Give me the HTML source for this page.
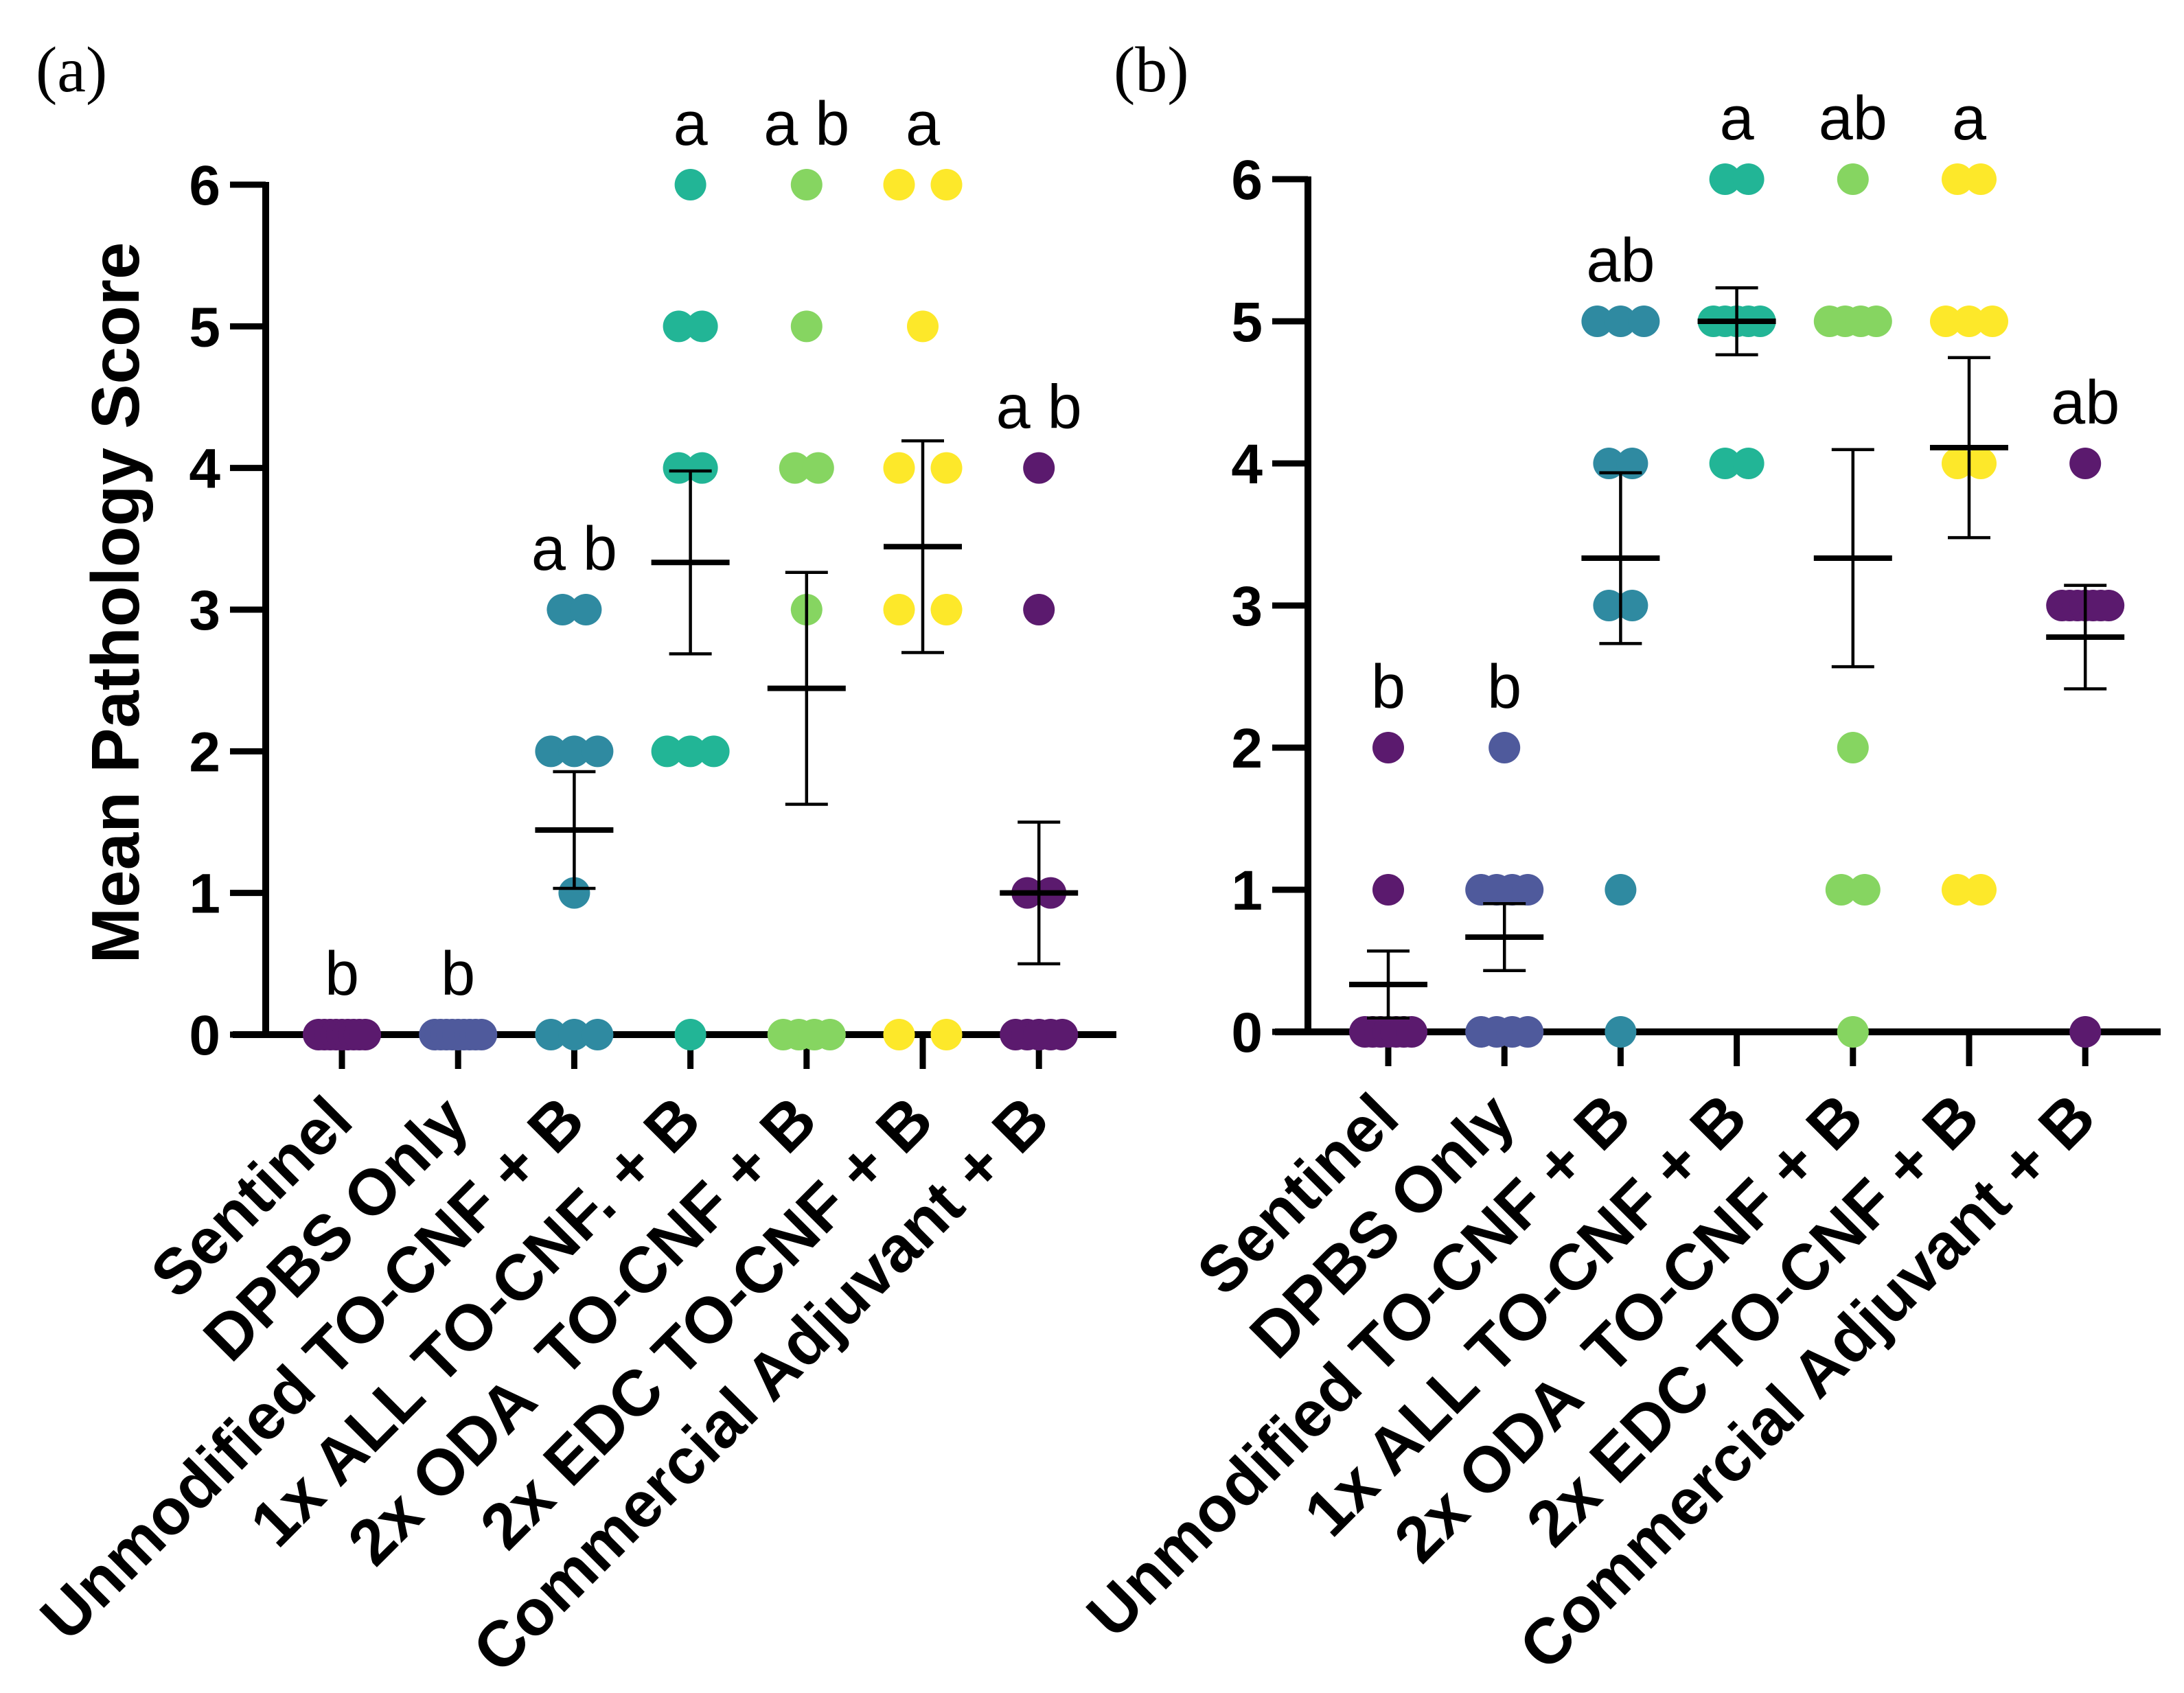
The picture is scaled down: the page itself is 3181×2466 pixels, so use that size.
<!DOCTYPE html>
<html><head><meta charset="utf-8"><style>
html,body{margin:0;padding:0;background:#fff;}
svg{display:block;}
text{font-family:"Liberation Sans",sans-serif;}
text.serif{font-family:"Liberation Serif",serif;}
</style></head><body>
<svg id="chart" width="3181" height="2466" viewBox="0 0 3181 2466" xmlns="http://www.w3.org/2000/svg"></svg>
<script>
// ---------- data ----------
const categoriesA = ["Sentinel","DPBS Only","Unmodified TO-CNF + B","1x ALL TO-CNF. + B","2x ODA  TO-CNF + B","2x EDC TO-CNF + B","Commercial Adjuvant + B"];
const categoriesB = ["Sentinel","DPBS Only","Unmodified TO-CNF + B","1x ALL TO-CNF + B","2x ODA  TO-CNF + B","2x EDC TO-CNF + B","Commercial Adjuvant + B"];
const sentinelA = [0,0,0,0,0,0,0,0,0];
const dpbsA = [0,0,0,0,0,0,0,0,0];
const unmodA = [3,3,2,2,2,1,0,0,0];
const allA = [6,5,5,4,4,2,2,2,0];
const odaA = [6,5,4,4,3,0,0,0,0];
const edcA = [6,6,5,4,4,3,3,0,0];
const commA = [4,3,1,1,0,0,0,0,0];
const sentinelB = [2,1,0,0,0,0,0,0,0];
const dpbsB = [2,1,1,1,1,0,0,0,0];
const unmodB = [5,5,5,4,4,3,3,1,0];
const allB = [6,6,5,5,5,5,5,4,4];
const odaB = [6,5,5,5,5,2,1,1,0];
const edcB = [6,6,5,5,5,4,4,1,1];
const commB = [4,3,3,3,3,3,3,3,0];
const sigA = ["b","b","a b","a","a b","a","a b"];
const sigB = ["b","b","ab","a","ab","a","ab"];
const yTicks = [0,1,2,3,4,5,6];

// ---------- styling ----------
const colors = ["#5b1a6e","#4f5a9c","#2f8aa1","#22b596","#86d561","#fde82a","#5b1a6e"];
const NS = "http://www.w3.org/2000/svg";
const svg = document.getElementById("chart");
function mk(tag, attrs, parent){
  const e = document.createElementNS(NS, tag);
  for (const k in attrs) e.setAttribute(k, attrs[k]);
  (parent||svg).appendChild(e);
  return e;
}
function stats(v){
  const n=v.length, m=v.reduce((a,b)=>a+b,0)/n;
  const sd=Math.sqrt(v.reduce((a,b)=>a+(b-m)*(b-m),0)/(n-1));
  return {mean:m, sem:sd/Math.sqrt(n)};
}

function panel(cfg){
  const g = mk("g", {});
  
  
  const y = v => cfg.y0 + (cfg.y6 - cfg.y0) * v / 6;
  const x = i => cfg.x0 + i * cfg.step;

  const pl = mk("text", {x:cfg.labelX, y:133, "font-size":94, "class":"serif"}, g);
  pl.textContent = cfg.letter;
  
  

  yTicks.forEach(t=>{
    const tk = mk("line", {x1:cfg.axisX-52, x2:cfg.axisX, y1:y(t), y2:y(t), stroke:"#000","stroke-width":9}, g);
    
    
    const tl = mk("text", {x:cfg.axisX-66, y:y(t)+29, "font-size":82, "font-weight":"bold", "text-anchor":"end"}, g);
    tl.textContent = t;
    
    
  });
  const ya = mk("line", {x1:cfg.axisX, x2:cfg.axisX, y1:y(6)-4, y2:y(0)+5, stroke:"#000","stroke-width":10}, g);
  
  
  const xa = mk("line", {x1:cfg.axisX-48, x2:cfg.xEnd, y1:y(0), y2:y(0), stroke:"#000","stroke-width":10}, g);
  
  

  if (cfg.yTitle){
    const yt = mk("text", {x:0, y:0, "font-size":98, "font-weight":"bold", "text-anchor":"middle",
      transform:`translate(${cfg.axisX-185},${(y(0)+y(6))/2 - 10}) rotate(-90)`}, g);
    yt.textContent = cfg.yTitle;
    
    
  }

  cfg.series.forEach((vals, i)=>{
    const cx = x(i);
    const xt = mk("line", {x1:cx, x2:cx, y1:y(0), y2:y(0)+50, stroke:"#000","stroke-width":9}, g);
    
    
    const lx = cx + 20, ly = y(0) + 130;
    const xl = mk("text", {x:lx, y:ly, "font-size":94, "font-weight":"bold", "text-anchor":"end",
      transform:`rotate(-45 ${lx} ${ly})`}, g);
    xl.setAttributeNS("http://www.w3.org/XML/1998/namespace", "xml:space", "preserve");
    xl.textContent = cfg.cats[i];
    
    

    const counts = {};
    vals.forEach(v=>{ counts[v]=(counts[v]||0)+1; });
    const grp = mk("g", {}, g);
    
    
    Object.keys(counts).forEach(k=>{
      const n = counts[k];
      let sp = n<=3 ? 34 : 68/(n-1);
      if (n===2 && cfg.wide && cfg.wide[i]) sp = 69;
      for (let j=0;j<n;j++){
        const dx = (j-(n-1)/2)*sp;
        const c = mk("circle", {cx:cx+dx, cy:y(+k), r:23, fill:colors[i]}, grp);
        
        
      }
    });

    const s = stats(vals);
    if (s.mean > 0){
      const eb = mk("g", {stroke:"#000"}, g);
      
      
      mk("line", {x1:cx, x2:cx, y1:y(s.mean+s.sem), y2:y(s.mean-s.sem), "stroke-width":4.5}, eb);
      mk("line", {x1:cx-31, x2:cx+31, y1:y(s.mean+s.sem), y2:y(s.mean+s.sem), "stroke-width":4.5}, eb);
      mk("line", {x1:cx-31, x2:cx+31, y1:y(s.mean-s.sem), y2:y(s.mean-s.sem), "stroke-width":4.5}, eb);
      mk("line", {x1:cx-57, x2:cx+57, y1:y(s.mean), y2:y(s.mean), "stroke-width":8}, eb);
    }

    const top = Math.max(...vals, s.mean+s.sem);
    const sg = mk("text", {x:cx, y:y(top)-58, "font-size":90, "text-anchor":"middle"}, g);
    sg.textContent = cfg.sig[i];
    
    
  });
}

panel({name:"panel-a", letter:"(a)", labelX:52, axisX:387, xEnd:1626, x0:498, step:169.2,
  y0:1507, y6:269, cats:categoriesA, sig:sigA, yTitle:"Mean Pathology Score",
  series:[sentinelA,dpbsA,unmodA,allA,odaA,edcA,commA], wide:[0,0,0,0,0,1,0]});
panel({name:"panel-b", letter:"(b)", labelX:1622, axisX:1905, xEnd:3147, x0:2022, step:169.2,
  y0:1503, y6:261, cats:categoriesB, sig:sigB, yTitle:null,
  series:[sentinelB,dpbsB,unmodB,allB,odaB,edcB,commB]});
</script>
</body></html>
